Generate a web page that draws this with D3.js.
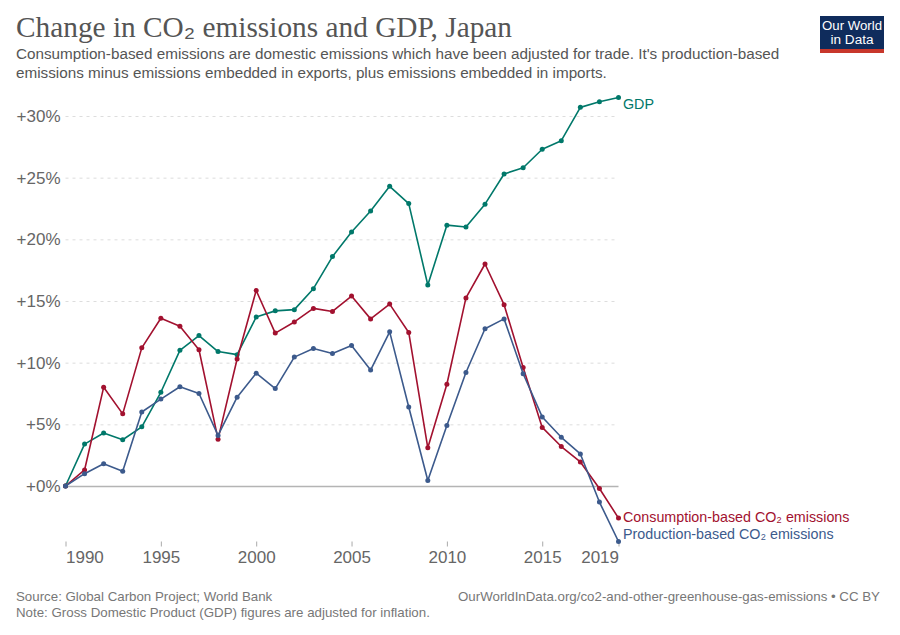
<!DOCTYPE html>
<html><head><meta charset="utf-8">
<script src="https://cdnjs.cloudflare.com/ajax/libs/d3/7.8.5/d3.min.js"></script>
<style>
html,body{margin:0;padding:0;background:#fff}
svg{display:block}
text{font-family:"Liberation Sans",Arial,sans-serif}
.domain{display:none}
</style></head><body>
<svg id="c" width="900" height="635"></svg>
<script>
const years = d3.range(1990, 2020);
const gdp = [0,3.4,4.3,3.75,4.8,7.6,11,12.2,10.9,10.65,13.7,14.2,14.3,16,18.6,20.6,22.3,24.3,22.9,16.3,21.15,21,22.85,25.3,25.8,27.3,28,30.7,31.15,31.5];
const consumption = [0,1.3,8,5.85,11.2,13.6,12.95,11.05,3.8,10.3,15.85,12.4,13.3,14.4,14.15,15.4,13.55,14.75,12.45,3.1,8.25,15.25,18,14.7,9.6,4.75,3.2,1.95,-0.2,-2.6];
const production = [0,1,1.8,1.2,6,7.05,8.05,7.5,4.1,7.2,9.15,7.9,10.45,11.15,10.75,11.4,9.4,12.5,6.4,0.45,4.9,9.2,12.75,13.55,9.1,5.6,3.95,2.6,-1.3,-4.5];
const yTicks = [0,5,10,15,20,25,30];
const xTicks = [1990,1995,2000,2005,2010,2015,2019];
const seriesNames = ["GDP","Consumption-based CO₂ emissions","Production-based CO₂ emissions"];
const seriesColors = ["#00786a","#a2112f","#3c5a8c"];
const seriesValues = [gdp,consumption,production];
const labelY = [104,517,534];

const svg = d3.select("#c");
const x = d3.scaleLinear().domain([1990,2019]).range([65.5,618.5]);
const y = d3.scaleLinear().domain([0,30]).range([486,116]);

// title
const title = svg.append("text").attr("x",16).attr("y",37).attr("font-size",29)
  .style("font-family","'Liberation Serif',serif").attr("fill","#555").attr("textLength",496).attr("lengthAdjust","spacingAndGlyphs");
title.append("tspan").text("Change in CO");
title.append("tspan").style("font-family","'Liberation Sans',sans-serif").text("₂");
title.append("tspan").text(" emissions and GDP, Japan");
const sub = ["Consumption-based emissions are domestic emissions which have been adjusted for trade. It's production-based",
 "emissions minus emissions embedded in exports, plus emissions embedded in imports."];
sub.forEach((t,i)=>svg.append("text").attr("x",16).attr("y",59+i*18.5).attr("font-size",15.25).attr("fill","#555").text(t));

// logo
svg.append("rect").attr("x",820).attr("y",16).attr("width",64).attr("height",33).attr("fill","#0f2c5c");
svg.append("rect").attr("x",820).attr("y",49).attr("width",64).attr("height",4).attr("fill","#c8372b");
[["Our World",30,60],["in Data",44,43]].forEach(d=>svg.append("text").attr("x",852).attr("y",d[1]).attr("text-anchor","middle").attr("font-size",12.5).attr("fill","#fff").attr("textLength",d[2]).attr("lengthAdjust","spacingAndGlyphs").text(d[0]));

// y axis
const yAxis = d3.axisLeft(y).tickValues(yTicks).tickSize(0).tickPadding(5).tickFormat(d=>"+"+d+"%");
const gy = svg.append("g").attr("transform","translate(65.5,0)").call(yAxis);
gy.selectAll("text").attr("font-size",17).attr("fill","#666").attr("dy","0.32em").style("font-family","'Liberation Sans',sans-serif");
svg.append("g").selectAll("line").data(yTicks).join("line")
  .attr("x1",x(1990)).attr("x2",x(2019)).attr("y1",d=>y(d)+.5).attr("y2",d=>y(d)+.5)
  .attr("stroke",d=>d===0?"#b4b4b4":"#ddd").attr("stroke-width",d=>d===0?1.5:1).attr("stroke-dasharray",d=>d===0?null:"3,4");

// x axis
const xAxis = d3.axisBottom(x).tickValues(xTicks).tickSize(5).tickPadding(4).tickFormat(d3.format("d"));
const gx = svg.append("g").attr("transform","translate(0,541.5)").call(xAxis);
gx.selectAll("line").attr("stroke","#aaa");
gx.selectAll("text").attr("font-size",17).attr("fill","#666").style("font-family","'Liberation Sans',sans-serif")
  .attr("text-anchor",d=>d===1990?"start":d===2019?"end":"middle");

// series
const line = d3.line().x((d,i)=>x(years[i])).y(d=>y(d));
seriesValues.forEach((vals,s)=>{
  svg.append("path").datum(vals).attr("d",line).attr("fill","none").attr("stroke",seriesColors[s]).attr("stroke-width",1.6).attr("stroke-linejoin","round");
  svg.append("g").selectAll("circle").data(vals).join("circle")
    .attr("cx",(d,i)=>x(years[i])).attr("cy",d=>y(d)).attr("r",2.5).attr("fill",seriesColors[s]);
  svg.append("text").attr("x",623).attr("y",labelY[s]).attr("dy","0.35em").attr("font-size",14.3).attr("fill",seriesColors[s]).text(seriesNames[s]);
});

// footer
svg.append("text").attr("x",16).attr("y",601).attr("font-size",13.3).attr("fill","#777").text("Source: Global Carbon Project; World Bank");
svg.append("text").attr("x",16).attr("y",617).attr("font-size",13.3).attr("fill","#777").text("Note: Gross Domestic Product (GDP) figures are adjusted for inflation.");
svg.append("text").attr("x",880).attr("y",601).attr("text-anchor","end").attr("font-size",13.3).attr("fill","#777").text("OurWorldInData.org/co2-and-other-greenhouse-gas-emissions • CC BY");
</script></body></html>
